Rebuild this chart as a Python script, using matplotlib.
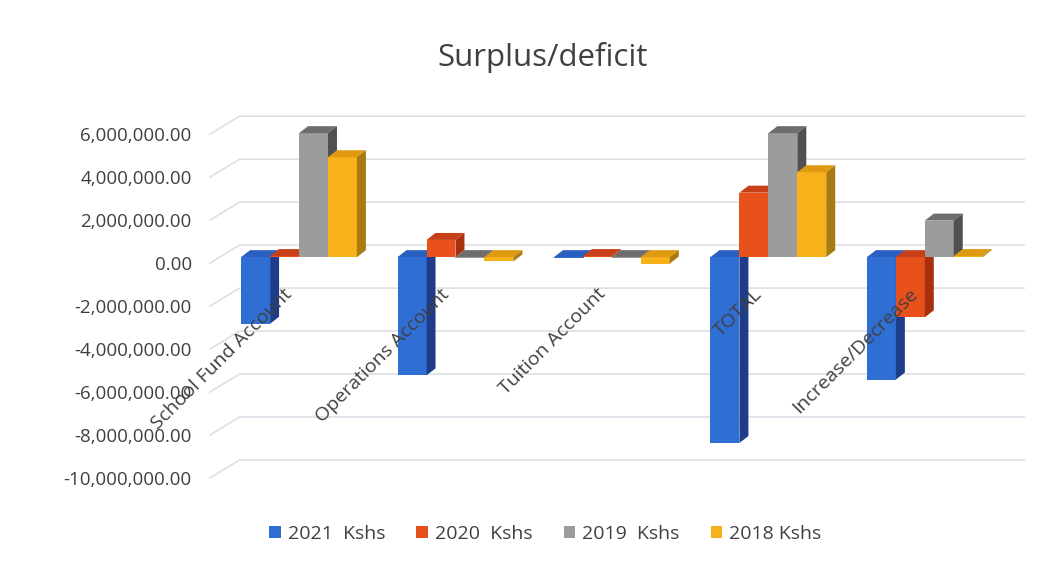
import numpy as np
import matplotlib
matplotlib.use("Agg")
import matplotlib.pyplot as plt
import matplotlib.transforms as mtransforms
from matplotlib.patches import Polygon
from matplotlib.ticker import FuncFormatter

categories = ["School Fund Account", "Operations Account", "Tuition Account", "TOTAL", "Increase/Decrease"]
series_names = ["2021  Kshs", "2020  Kshs", "2019  Kshs", "2018 Kshs"]
y2021 = [-3100000, -5500000, -50000, -8650000, -5700000]
y2020 = [50000, 800000, 50000, 3000000, -2800000]
y2019 = [5770000, -50000, -50000, 5770000, 1700000]
y2018 = [4650000, -200000, -300000, 3950000, 50000]
ticks = [6e6, 4e6, 2e6, 0, -2e6, -4e6, -6e6, -8e6, -10e6]

front = ["#2f6fd4", "#e8501c", "#9c9c9c", "#f7b21b"]
top = ["#2a5fbf", "#c8401a", "#6e6e6e", "#e09a12"]
side = ["#1d3c8a", "#a8300f", "#505050", "#a87a10"]

txt = "#404040"
plt.rcParams["font.family"] = ["Open Sans", "DejaVu Sans"]

fig = plt.figure(figsize=(10.61, 5.62), dpi=100)
ax = fig.add_axes([0.1885, 0.146, 0.7775, 0.658])
xl, xr = -0.633, 4.64
ax.set_xlim(xl, xr)
ax.set_ylim(-10.37e6, 6.84e6)

# back wall gridlines, with slanted left wall part
for t in ticks:
    ax.plot([-0.57, -0.38, xr], [t - 280000, t + 560000, t + 560000],
            color="#dcdce6", lw=1.1, zorder=1)

w = 0.185
ddx, ddy = 0.0575, 325000
x = np.arange(len(categories))
data = [y2021, y2020, y2019, y2018]
handles = []
for i, vals in enumerate(data):
    xs = x + (i - 1.5) * w
    b = ax.bar(xs, vals, w, color=front[i], zorder=3 + i, label=series_names[i])
    handles.append(b)
    for xc, v in zip(xs, vals):
        x0, x1 = xc - w / 2, xc + w / 2
        hi = max(v, 0)
        lo = min(v, 0)
        ax.add_patch(Polygon([(x0, hi), (x1, hi), (x1 + ddx, hi + ddy), (x0 + ddx, hi + ddy)],
                             closed=True, fc=top[i], ec="none", zorder=3 + i))
        ax.add_patch(Polygon([(x1, lo), (x1, hi), (x1 + ddx, hi + ddy), (x1 + ddx, lo + ddy)],
                             closed=True, fc=side[i], ec="none", zorder=3 + i))

for xc, lab in zip(x, categories):
    ax.text(xc - 0.02, -1300000, lab, rotation=45, ha="right", va="top",
            fontsize=14, color=txt, zorder=10)

ax.set_yticks(ticks)
ax.yaxis.set_major_formatter(FuncFormatter(lambda v, p: f"{v:,.2f}"))
ax.set_xticks([])
ax.tick_params(axis="y", length=0, pad=6, labelsize=13.5, labelcolor=txt)
shift = mtransforms.ScaledTranslation(0, -6 / 100, fig.dpi_scale_trans)
for lab in ax.get_yticklabels():
    lab.set_transform(lab.get_transform() + shift)
for s in ax.spines.values():
    s.set_visible(False)

fig.text(0.511, 0.897, "Surplus/deficit", ha="center", va="center", fontsize=22.5, color=txt)
fig.legend(handles=handles, labels=series_names, loc="center", bbox_to_anchor=(0.514, 0.05),
           ncol=4, frameon=False, fontsize=14, handlelength=0.6, handleheight=0.6,
           handletextpad=0.35, columnspacing=1.6, labelcolor=txt)

fig.savefig("out.png", dpi=100)
